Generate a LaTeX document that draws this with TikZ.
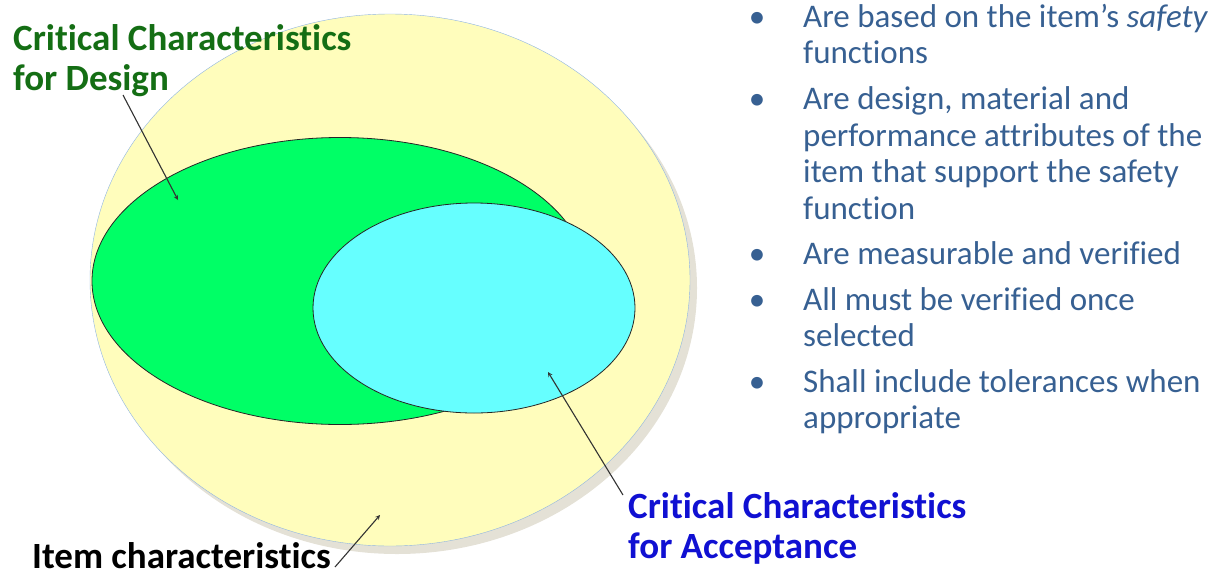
\documentclass[tikz,border=0pt]{standalone}
\usepackage{fontspec}
\setmainfont{Carlito}[Ligatures=NoCommon]
\usepackage{tikz}
\usetikzlibrary{shapes.geometric, arrows, positioning}
\definecolor{itemYellow}{RGB}{255,253,188}
\definecolor{itemRim}{RGB}{142,180,227}
\definecolor{shadowGrey}{RGB}{228,225,214}
\definecolor{designGreen}{RGB}{0,255,102}
\definecolor{acceptCyan}{RGB}{102,255,255}
\definecolor{designText}{RGB}{20,110,20}
\definecolor{acceptText}{RGB}{16,16,210}
\definecolor{factText}{RGB}{55,96,146}
\tikzstyle{pointer} = [line width=1.1pt,->,>=stealth,draw=black!80]
\tikzstyle{itemset} = [ellipse, draw=itemRim, fill=itemYellow, inner sep=0pt, minimum width=600pt, minimum height=532pt]
\tikzstyle{designset} = [ellipse, draw=black!85, fill=designGreen, inner sep=0pt, minimum width=496pt, minimum height=287pt]
\tikzstyle{acceptset} = [ellipse, draw=black!85, fill=acceptCyan, inner sep=0pt, minimum width=322pt, minimum height=210pt]
\tikzstyle{caption} = [font=\bfseries\fontsize{37}{40}\selectfont, align=left, inner sep=0pt, anchor=north west]
\tikzstyle{fact} = [font=\fontsize{33}{36.5}\selectfont, text=factText, align=left, inner sep=0pt]
\newcommand\bul{\llap{\textbullet\hspace{38pt}}}

\begin{document}
\begin{tikzpicture}[x=1pt,y=-1pt]
\useasboundingbox (0,0) rectangle (1228,576);
%----------------------------------------------------------------------------
% Sets
\fill [shadowGrey] (397,288) ellipse [x radius=300, y radius=266];
\node (items) [itemset] at (390,280) {};
\node (design) [designset, line width=0.8pt] at (340,281) {};
\node (accept) [acceptset, line width=0.8pt] at (474,308) {};

%----------------------------------------------------------------------------
% Captions
\node (designCap) [caption, text=designText] at (13,24) {Critical Characteristics\\for Design};
\node (acceptCap) [caption, text=acceptText] at (628,492) {Critical Characteristics\\for Acceptance};
\node (itemCap) [caption, text=black] at (32,542) {Item characteristics};

%----------------------------------------------------------------------------
% Bullets
\node (fact1) [fact, anchor=north west] at (803,4) {\bul Are based on the item's \textit{safety}\\functions};
\node (fact2) [fact, below=22pt of fact1.south west, anchor=north west] {\bul Are design, material and\\performance attributes of the\\item that support the safety\\function};
\node (fact3) [fact, below=22pt of fact2.south west, anchor=north west] {\bul Are measurable and verified};
\node (fact4) [fact, below=22pt of fact3.south west, anchor=north west] {\bul All must be verified once\\selected};
\node (fact5) [fact, below=22pt of fact4.south west, anchor=north west] {\bul Shall include tolerances when\\appropriate};

%----------------------------------------------------------------------------
% Pointers
\coordinate (designTail) at (123,95);
\coordinate (designTip) at (178,200);
\coordinate (acceptTail) at (623,495);
\coordinate (acceptTip) at (548,372);
\coordinate (itemTail) at (335,567);
\coordinate (itemTip) at (380,515);
\draw [pointer] (designTail) -- (designTip);
\draw [pointer] (acceptTail) -- (acceptTip);
\draw [pointer] (itemTail) -- (itemTip);

\end{tikzpicture}
\end{document}
